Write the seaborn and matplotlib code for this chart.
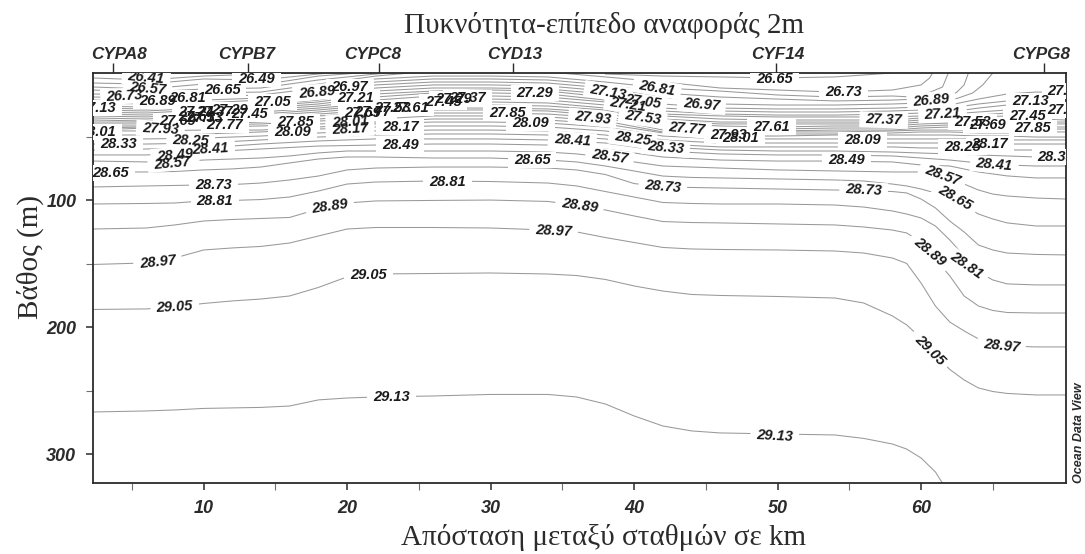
import numpy as np
import pandas as pd
import matplotlib
matplotlib.use("Agg")
import matplotlib.pyplot as plt
import seaborn as sns
from matplotlib.patches import Rectangle
from matplotlib.transforms import Affine2D

nan = np.nan

title_text = "Πυκνότητα-επίπεδο αναφοράς 2m"
xlabel_text = "Απόσταση μεταξύ σταθμών σε km"
ylabel_text = "Βάθος (m)"
credit_text = "Ocean Data View"

station_names = ["CYPA8", "CYPB7", "CYPC8", "CYD13", "CYF14", "CYPG8"]
station_km = [3.7, 13.1, 22.2, 31.6, 49.9, 68.6]
station_label_km = [4.1, 13.0, 21.8, 31.7, 50.0, 68.4]

distance_km = [2.3, 6, 10, 14, 18, 22, 26, 30, 34, 38, 42, 46, 50, 54, 58, 60, 62, 64, 66, 68, 70.1]
fine_km = [2.3, 6, 8, 10, 12, 14, 16, 18, 20, 22, 26, 30, 34, 36, 38, 40, 42, 44, 46, 50, 54, 56, 58, 59,
           60, 61, 62, 63, 64, 65, 66, 68, 70.1]
km_2673 = distance_km[:16] + [60.6, 60.8]
km_2681 = distance_km[:15] + [59.4, 60.5, 61.5, 61.9]
km_2689 = distance_km[:16] + [62, 62.5, 63, 63.3]
km_2697 = distance_km[:16] + [62, 62.6, 63.6, 64.3, 65]

d2641 = [3.9, 5.5, 2.4, .8, -1] + [nan] * 16
d2649 = [7.9, 8.7, 4.7, 5.5, .8, -3] + [nan] * 15
d2657 = [11, 12.6, 8.7, 9.4, 2.4, -1] + [nan] * 15
d2665 = [13.4, 15, 12.6, 11.8, 5.5, .8, -2.4, nan, nan, .8, 2.4, 3.1, 3.9, 3.1, 0] + [nan] * 6
d2673 = [16.5, 17.3, 15.7, 15, 8.7, 2.4, -1.6, nan, -.8, 3.1, 7.1, 11.8, 13.4, 15, 13.4, 9.4, 3.9, 0]
d2681 = [18.9, 19.7, 18.9, 17.3, 11.8, 4.7, 2.4, 2.4, 3.1, 7.1, 11.8, 14.2, 17.3, 18.9, 18.1, 18.9, 15.7, 11, 0]
d2689 = [21.3, 22, 21.3, 19.7, 15, 7.1, 4.7, 4.7, 5.5, 9.4, 15.7, 18.9, 20.5, 22, 21.3, 20.5, 18.1, 15, 9.4, 0]
d2697 = [23.6, 24.4, 23.6, 21.3, 16.5, 9.4, 7.1, 7.1, 7.9, 11.8, 18.9, 24.4, 25.2, 25.2, 24.4, 23.6, 21.3, 19.7, 15.7, 9.4, 0]
d2705 = [26, 26.8, 25.2, 22.8, 18.9, 11.8, 9.4, 9.4, 10.2, 14.2, 24.4, 27.6, 28.3, 28.3, 27.6, 26.8, 25.2, 20.5, 16.5, 15, 15]
d2713 = [27.6, 28.3, 26.8, 25.2, 21.3, 14.2, 11.8, 11.8, 12.6, 16.5, 27.6, 29.9, 30.7, 30.7, 29.9, 29.1, 27.6, 24.4, 22, 20.5, 19.7]
d2721 = [29.1, 29.9, 27.6, 26, 22.8, 16.5, 14.2, 13.4, 14.2, 18.9, 29.9, 32.3, 33.1, 33.1, 32.3, 31.5, 30.7, 27.6, 25.2, 24.4, 24.4]
d2729 = [30.7, 31.5, 29.1, 27.6, 24.4, 18.9, 15.7, 15.7, 16.5, 21.3, 32.3, 33.8, 34.6, 34.6, 34.6, 33.8, 32.3, 30.7, 29.1, 29.1, 29.1]
d2737 = [32.3, 33.1, 30.7, 29.1, 26, 21.3, 18.1, 18.1, 18.9, 22.8, 33.8, 36.2, 37, 37, 37, 35.4, 33.8, 33.1, 31.5, 31.5, 31.5]
d2745 = [33.8, 34.6, 32.3, 30.7, 27.6, 23.6, 21.3, 20.5, 21.3, 25.2, 36.2, 38.6, 38.6, 38.6, 38.6, 37, 35.4, 34.6, 33.8, 33.8, 34.6]
d2753 = [35.4, 36.2, 33.8, 32.3, 29.1, 25.2, 22.8, 22.8, 23.6, 27.6, 37.8, 40.1, 40.1, 40.1, 40.1, 38.6, 37, 37, 36.2, 36.2, 37]
d2761 = [37, 37.8, 35.4, 33.8, 30.7, 26.8, 25.2, 25.2, 26, 29.1, 39.4, 41.7, 42.5, 41.7, 41.7, 40.1, 39.4, 38.6, 38.6, 38.6, 38.6]
d2769 = [38.6, 38.6, 37, 35.4, 32.3, 29.1, 27.6, 27.6, 28.3, 31.5, 40.9, 43.3, 44.1, 43.3, 43.3, 41.7, 40.9, 40.9, 40.1, 40.1, 40.1]
d2777 = [40.1, 40.1, 38.6, 37, 33.8, 31.5, 29.1, 29.1, 29.9, 33.8, 43.3, 44.9, 45.6, 44.9, 44.9, 43.3, 42.5, 42.5, 42.5, 42.5, 42.5]
d2785 = [41.7, 41.7, 40.1, 38.6, 36.2, 33.1, 31.5, 31.5, 32.3, 35.4, 44.9, 46.4, 46.4, 46.4, 45.6, 44.9, 44.9, 44.9, 44.9, 44.1, 44.1]
d2793 = [43.3, 42.5, 40.9, 40.1, 37.8, 36.2, 33.8, 33.8, 34.6, 37.8, 46.4, 48, 48, 48, 47.2, 46.4, 46.4, 47.2, 47.2, 46.4, 46.4]
d2801 = [44.9, 43.3, 42.5, 41.7, 40.1, 38.6, 36.2, 36.2, 37, 40.1, 47.2, 49.6, 49.6, 48.8, 48.8, 48.8, 48.8, 49.6, 49.6, 50.4, 50.4]
d2809 = [45.6, 45.6, 44.9, 44.9, 42.5, 40.1, 38.6, 38.6, 39.4, 42.5, 49.6, 51.9, 51.9, 51.9, 51.9, 51.9, 51.9, 51.9, 52.7, 52.7, 52.7]
d2817 = [48.8, 48.8, 48, 46.4, 44.1, 42.5, 41.7, 41.7, 42.5, 45.6, 52.7, 55.1, 55.1, 55.1, 55.1, 55.1, 55.1, 55.1, 55.9, 55.9, 55.9]
d2825 = [51.9, 51.9, 51.2, 49.6, 47.2, 45.6, 44.9, 44.9, 45.6, 48.8, 55.9, 58.2, 58.2, 58.2, 58.2, 59, 59, 59.8, 60.6, 60.6, 61.4]
d2833 = [55.9, 55.9, 55.1, 52.7, 50.4, 48.8, 48, 48, 48.8, 51.9, 58.2, 60.6, 61.4, 61.4, 62.2, 63, 63.7, 64.5, 65.3, 66.1, 66.1]
d2841 = [60.6, 59.8, 59, 55.9, 53.5, 51.9, 51.9, 51.9, 52.7, 55.1, 61.4, 63.7, 64.5, 64.5, 65.3, 66.9, 68.5, 70.8, 72.4, 73.2, 73.2]
d2849 = [64.5, 64.5, 62.2, 59.8, 57.5, 56.7, 55.9, 55.9, 56.7, 59.8, 66.1, 68.5, 69.3, 69.3, 70, 72.4, 73.2, 77.9, 81, 82.6, 82.6]
d2857 = [69.3, 70, 70, 68.5, 67.7, 66.9, 65.3, 62.9, 61.4, 61.4, 61.4, 61.4, 62.2, 63.7, 66.1, 70, 73.2, 74, 74.8, 76.3, 77.1, 77.5, 77.9, 77.9, 77.9, 79.5, 82.6, 87.4, 92.1, 95.3, 96.8, 98.4, 99.2]
d2865 = [77.9, 77.9, 77.5, 76.3, 75.5, 74, 70.8, 67.7, 66.1, 66.1, 66.9, 66.9, 68.5, 70, 73.2, 77.1, 81.1, 82.2, 82.6, 83.4, 84.2, 85, 87.4, 88.9, 91.3, 94.4, 99.2, 104.7, 111, 114.9, 118, 120.4, 120.4]
d2873 = [89.7, 88.9, 88.5, 88.1, 87.8, 86.6, 84.2, 81.1, 76.3, 74.8, 74, 74, 74.8, 76.3, 79.9, 87, 89.7, 90.1, 90.5, 91.3, 92.1, 92.5, 93.3, 94.4, 99.2, 106.2, 116.5, 125.1, 135.4, 139.3, 141.7, 142.8, 143.2]
d2881 = [103.1, 102.7, 102.3, 100.7, 100.3, 99.6, 97.6, 92.9, 87.4, 85.8, 85, 85.4, 86.6, 88.9, 93.3, 97.6, 101.9, 102.7, 103.1, 103.1, 103.9, 105.5, 108.6, 111, 114.1, 120.4, 131.4, 144, 156.6, 162.9, 166, 166.8, 166.8]
d2889 = [122.8, 122, 119.6, 116.5, 115.3, 114.5, 113.7, 107, 102.3, 100.7, 100.3, 100, 101.1, 103.9, 107.8, 112.5, 116.9, 117.7, 118, 118.8, 119.6, 121.2, 123.6, 125.9, 133, 146.4, 159.7, 175.5, 183.4, 186.9, 188.5, 188.9, 188.9]
d2897 = [150.7, 149.5, 145.6, 139.3, 137.7, 136.5, 133.8, 128.3, 122.8, 121.6, 121.6, 122, 123.6, 125.1, 129.5, 133.4, 137.3, 138.5, 138.9, 139.3, 140.1, 141.7, 145.6, 149.9, 165.3, 183.4, 196, 203, 209.3, 213.3, 214.9, 215.6, 215.6]
d2905 = [186.1, 185.7, 184.2, 181.4, 179.4, 177.9, 175.5, 168.8, 160.5, 158.2, 157.8, 157.4, 158.2, 159.4, 162.5, 167.6, 171.6, 174.3, 175.1, 175.9, 177.1, 181, 191.2, 198.3, 208.6, 221.9, 233.3, 241.6, 247.9, 250.7, 252.2, 253.4, 253.4]
d2913 = [266.8, 266, 265.2, 264, 263.6, 263.2, 262.1, 257.3, 255.8, 255, 254.2, 253, 253, 255, 260.5, 269.9, 277.8, 281.7, 283.3, 284.1, 284.9, 287.6, 292, 296, 303, 314, 332] + [nan] * 6

level_depths = {
    26.41: d2641, 26.49: d2649, 26.57: d2657, 26.65: d2665, 26.73: d2673, 26.81: d2681,
    26.89: d2689, 26.97: d2697, 27.05: d2705, 27.13: d2713, 27.21: d2721, 27.29: d2729,
    27.37: d2737, 27.45: d2745, 27.53: d2753, 27.61: d2761, 27.69: d2769, 27.77: d2777,
    27.85: d2785, 27.93: d2793, 28.01: d2801, 28.09: d2809, 28.17: d2817, 28.25: d2825,
    28.33: d2833, 28.41: d2841, 28.49: d2849, 28.57: d2857, 28.65: d2865, 28.73: d2873,
    28.81: d2881, 28.89: d2889, 28.97: d2897, 29.05: d2905, 29.13: d2913,
}
level_km = {26.73: km_2673, 26.81: km_2681, 26.89: km_2689, 26.97: km_2697,
            28.57: fine_km, 28.65: fine_km, 28.73: fine_km, 28.81: fine_km,
            28.89: fine_km, 28.97: fine_km, 29.05: fine_km, 29.13: fine_km}

contour_labels = [
    ("26.41", 6.0, 3.9, -5), ("26.57", 6.1, 12.6, -5), ("26.73", 4.5, 18.1, 3), ("26.89", 6.8, 22, 0),
    ("26.81", 8.9, 19.7, 0), ("26.65", 11.3, 13.4, 0), ("26.49", 13.7, 4.7, 0), ("27.13", 2.6, 27.6, 0),
    ("28.01", 2.6, 46.4, 0), ("28.33", 4.1, 55.9, 0), ("28.65", 3.5, 78.7, 0), ("27.93", 7, 44, -3),
    ("27.69", 8.2, 37.8, 0), ("28.25", 9.1, 53.5, -2), ("28.41", 10.5, 59.8, 3), ("28.49", 8, 64.5, 5),
    ("28.57", 7.8, 70.8, 5), ("28.73", 10.7, 88.1, 0), ("28.81", 10.8, 100.7, 0), ("27.21", 9.5, 30.7, 0),
    ("27.37", 10.8, 30.7, 0), ("27.29", 11.8, 29.1, 0), ("27.45", 13.2, 32.3, 0), ("27.61", 9.5, 34.6, 0),
    ("27.53", 10.1, 35.4, 0), ("27.77", 11.5, 40.9, 0), ("27.05", 14.8, 22.8, 0), ("27.85", 16.4, 38.6, 0),
    ("28.09", 16.2, 46.4, 0), ("26.89", 17.9, 15, 5), ("26.97", 20.2, 11, 0), ("27.21", 20.6, 19.7, 0),
    ("28.01", 20.2, 38.6, 3), ("28.17", 20.2, 44, 3), ("27.69", 21.1, 31.5, 0), ("27.77", 21.8, 30.7, 0),
    ("27.53", 23.2, 27.5, 0), ("27.61", 24.4, 27.5, 0), ("27.45", 26.7, 22.8, 0), ("27.29", 27.4, 20.5, 0),
    ("27.37", 28.4, 19.7, 0), ("28.17", 23.7, 42.5, 0), ("28.49", 23.7, 56.7, 0), ("27.29", 33.1, 15.7, 0),
    ("27.85", 31.2, 31.5, 0), ("28.09", 32.8, 39.4, 0), ("27.93", 37.1, 35.4, -6), ("28.41", 35.7, 52.7, -4),
    ("28.65", 32.9, 68.5, 0), ("28.81", 27, 85.8, 0), ("28.89", 18.8, 104.7, 8), ("28.97", 6.8, 148.7, 6),
    ("29.05", 8, 184, 3), ("29.05", 21.5, 158.9, 0), ("29.13", 23.1, 255, 0), ("28.89", 36.2, 104.7, -8),
    ("28.97", 34.4, 124.3, -3), ("28.73", 42, 89.7, -5), ("29.13", 49.8, 285.7, -3), ("27.13", 38.2, 15, -10),
    ("27.05", 40.6, 22.8, -8), ("27.21", 39.6, 25.2, -8), ("26.81", 41.6, 11.8, -10), ("26.97", 44.7, 25.2, -5),
    ("27.53", 40.6, 35.4, -8), ("27.77", 43.7, 44.1, -5), ("28.25", 39.9, 51.9, -8), ("28.33", 42.2, 59, -5),
    ("28.57", 38.3, 66.1, -8), ("27.93", 46.6, 48.8, 0), ("28.01", 47.4, 51.2, 0), ("27.61", 49.6, 42.5, 0),
    ("26.65", 49.8, 4.7, 0), ("26.73", 54.6, 15, 0), ("27.37", 57.4, 37, -2), ("28.09", 55.9, 52.7, 0),
    ("28.49", 54.8, 68.5, 0), ("28.73", 56, 92.1, -3), ("26.89", 60.7, 21.2, 5), ("27.21", 61.5, 32.3, 3),
    ("27.53", 63.6, 38.6, 0), ("27.69", 64.6, 40.9, 0), ("28.25", 62.9, 58.2, 0), ("28.17", 64.8, 55.9, 0),
    ("28.41", 65.1, 72.4, -5), ("28.33", 69.4, 66.1, 0), ("28.57", 61.5, 80.3, -20), ("28.65", 62.4, 98.4, -30),
    ("27.13", 67.6, 22, 0), ("27.45", 67.4, 33.8, 0), ("27.85", 67.8, 43.3, 0), ("27.05", 70.1, 14.2, 0),
    ("27.29", 70.1, 29.1, 0), ("28.89", 60.6, 140.9, -40), ("28.81", 63.2, 151.1, -35), ("28.97", 65.6, 214.9, -6),
    ("29.05", 60.6, 218, -45),
]

# long table, one group per unbroken run of a contour
rows = []
for level, depths in level_depths.items():
    run = 0
    for km, depth in zip(level_km.get(level, distance_km), depths):
        if np.isnan(depth):
            run += 1
        else:
            rows.append({"km": km, "depth": depth, "segment": f"{level}-{run}"})
df = pd.DataFrame(rows)

sns.set_theme(style="ticks")
plt.rcParams["font.family"] = ["Liberation Sans", "DejaVu Sans"]
DARK = "#2b2b2b"
SERIF = ["Liberation Serif", "DejaVu Serif"]

fig = plt.figure(figsize=(10.85, 5.54), dpi=100)
ax = fig.add_axes([93 / 1085, 1 - 483 / 554, 973 / 1085, 410 / 554])

sns.lineplot(data=df, x="km", y="depth", units="segment", estimator=None, sort=False,
             color="#999999", linewidth=0.75, legend=False, ax=ax, zorder=2)

ax.set_xlim(2.3, 70.1)
ax.set_ylim(322.7, 0)
ax.set_xticks([10, 20, 30, 40, 50, 60])
ax.set_xticks([5, 15, 25, 35, 45, 55, 65], minor=True)
ax.set_yticks([100, 200, 300])
ax.set_yticks([50, 150, 250], minor=True)
ax.tick_params(axis="both", which="major", length=5, width=1.1, color=DARK, pad=7)
ax.tick_params(axis="both", which="minor", length=5, width=0.8, color="#707070")
for lab in ax.get_xticklabels() + ax.get_yticklabels():
    lab.set_fontsize(13)
    lab.set_fontweight("bold")
    lab.set_fontstyle("italic")
    lab.set_color(DARK)
for sp in ax.spines.values():
    sp.set_visible(True)
    sp.set_linewidth(1.3)
    sp.set_color(DARK)

ax.set_xlabel(xlabel_text, fontsize=21, family=SERIF, color=DARK)
ax.xaxis.set_label_coords(0.525, -0.132)
ax.xaxis.label.set_verticalalignment("center")
ax.set_ylabel(ylabel_text, fontsize=21, family=SERIF, color=DARK)
ax.yaxis.set_label_coords(-0.064, 0.55)
ax.yaxis.label.set_verticalalignment("center")
ax.set_title(title_text, fontsize=21, family=SERIF, color=DARK, x=0.525, y=1.117, va="center", pad=0)

top = ax.secondary_xaxis("top")
top.set_xticks(station_km)
top.set_xticklabels([])
top.tick_params(axis="x", length=7.2, width=1.0, color=DARK)
top.spines["top"].set_visible(False)
for name, km in zip(station_names, station_label_km):
    ax.text(km, 1.046, name, transform=ax.get_xaxis_transform(), ha="center", va="center",
            fontsize=12.3, fontweight="bold", fontstyle="italic", color=DARK)

ax.text(1.0134, 0.0, credit_text, transform=ax.transAxes, rotation=90, ha="center", va="bottom",
        fontsize=9, fontweight="bold", fontstyle="italic", color=DARK)

label_artists = []
for txt, km, depth, rot in contour_labels:
    label_artists.append(ax.text(km, depth, txt, ha="center", va="center", rotation=rot,
                                 rotation_mode="anchor", fontsize=10.5, fontweight="bold",
                                 fontstyle="italic", color="#1a1a1a", clip_on=True, zorder=5))

# white masks under the labels hide the contour lines, but not the other labels
fig.canvas.draw()
renderer = fig.canvas.get_renderer()
for t in label_artists:
    rot = t.get_rotation()
    t.set_rotation(0)
    bb = t.get_window_extent(renderer)
    t.set_rotation(rot)
    cx, cy = (bb.x0 + bb.x1) / 2, (bb.y0 + bb.y1) / 2
    mask = Rectangle((bb.x0 - 6, cy - 8), bb.width + 12, 16, facecolor="white", edgecolor="none",
                     transform=Affine2D().rotate_deg_around(cx, cy, rot), zorder=4)
    ax.add_patch(mask)
    mask.set_clip_path(ax.patch)

fig.savefig("out.png", dpi=100, facecolor="white")
